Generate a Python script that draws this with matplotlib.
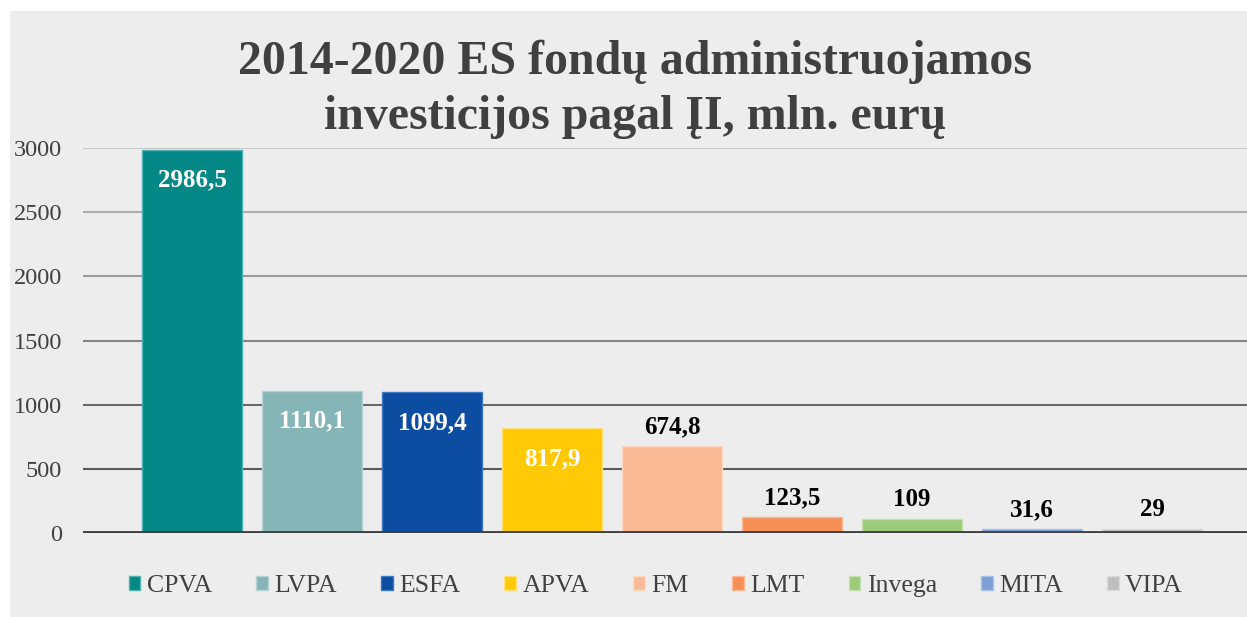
import matplotlib.pyplot as plt
from matplotlib.patches import Rectangle, Patch

# Data
agencies = ['CPVA', 'LVPA', 'ESFA', 'APVA', 'FM', 'LMT', 'Invega', 'MITA', 'VIPA']
values = [2986.5, 1110.1, 1099.4, 817.9, 674.8, 123.5, 109, 31.6, 29]
labels = ['2986,5', '1110,1', '1099,4', '817,9', '674,8', '123,5', '109', '31,6', '29']
colors = ['#038886', '#86B5B7', '#0D4DA1', '#FFC906', '#F9BA95',
          '#F79057', '#9DC97B', '#7C9FD6', '#BFBFBF']
edges = ['#4FB3B1', '#B5D3D4', '#3F78C4', '#FFE07A', '#FDDAC4',
         '#FBB894', '#C4E0AE', '#A9C1E8', '#D9D9D9']
yticks = [0, 500, 1000, 1500, 2000, 2500, 3000]
grid_colors = ['#C9C9C9', '#ADADAD', '#9A9A9A', '#858585', '#6A6A6A', '#5A5A5A']
inside = [True, True, True, True, False, False, False, False, False]

serif = ['Liberation Serif', 'DejaVu Serif']
plt.rcParams['font.family'] = serif

W, H = 1247, 617
fig = plt.figure(figsize=(W / 100, H / 100), dpi=100)
fig.patch.set_facecolor('white')
# gray chart area with white margin on top/left
fig.add_artist(Rectangle((10 / W, 0), 1 - 10 / W, 1 - 11 / H,
                         transform=fig.transFigure, facecolor='#EDEDED',
                         edgecolor='none', zorder=0))

ax = fig.add_axes([83 / W, 1 - 533 / H, (1247 - 83) / W, (533 - 148) / H])
ax.set_facecolor('none')
x = list(range(len(agencies)))
ax.bar(x, values, width=0.83, color=colors, edgecolor=edges, linewidth=1, zorder=3)

ax.set_xlim(-0.908, 8.792)
ax.set_ylim(0, 3000)

# gridlines get darker towards the bottom
for yv, gc in zip(yticks[1:][::-1], grid_colors):
    ax.axhline(yv, color=gc, linewidth=1.5, zorder=1)
ax.axhline(0, color='#404040', linewidth=3.5, zorder=4)

for s in ax.spines.values():
    s.set_visible(False)
ax.set_xticks([])
ax.set_yticks(yticks)
ax.set_yticklabels([str(t) for t in yticks], fontsize=17.5, color='#404040')
ax.tick_params(axis='y', length=0, pad=15)

for xi, v, lab, ins in zip(x, values, labels, inside):
    if ins:
        ax.annotate(lab, (xi, v), xytext=(0, -22), textcoords='offset points',
                    ha='center', va='center', fontsize=18, fontweight='bold',
                    color='white', zorder=5)
    else:
        ax.annotate(lab, (xi, v), xytext=(0, 14), textcoords='offset points',
                    ha='center', va='center', fontsize=18, fontweight='bold',
                    color='black', zorder=5)

fig.text(0.509, 1 - 62 / H, '2014-2020 ES fondų administruojamos',
         ha='center', va='center', fontsize=34.5, fontweight='bold', color='#404040')
fig.text(0.509, 1 - 117 / H, 'investicijos pagal ĮI, mln. eurų',
         ha='center', va='center', fontsize=34.5, fontweight='bold', color='#404040')

handles = [Patch(facecolor=c, edgecolor=e, linewidth=1) for c, e in zip(colors, edges)]
fig.legend(handles, agencies, loc='center', bbox_to_anchor=(0.526, 1 - 586 / H),
           ncol=9, frameon=False, fontsize=18.5, labelcolor='#404040',
           handlelength=0.45, handleheight=0.45, handletextpad=0.25, columnspacing=1.72)

fig.savefig('out.png', dpi=100)
